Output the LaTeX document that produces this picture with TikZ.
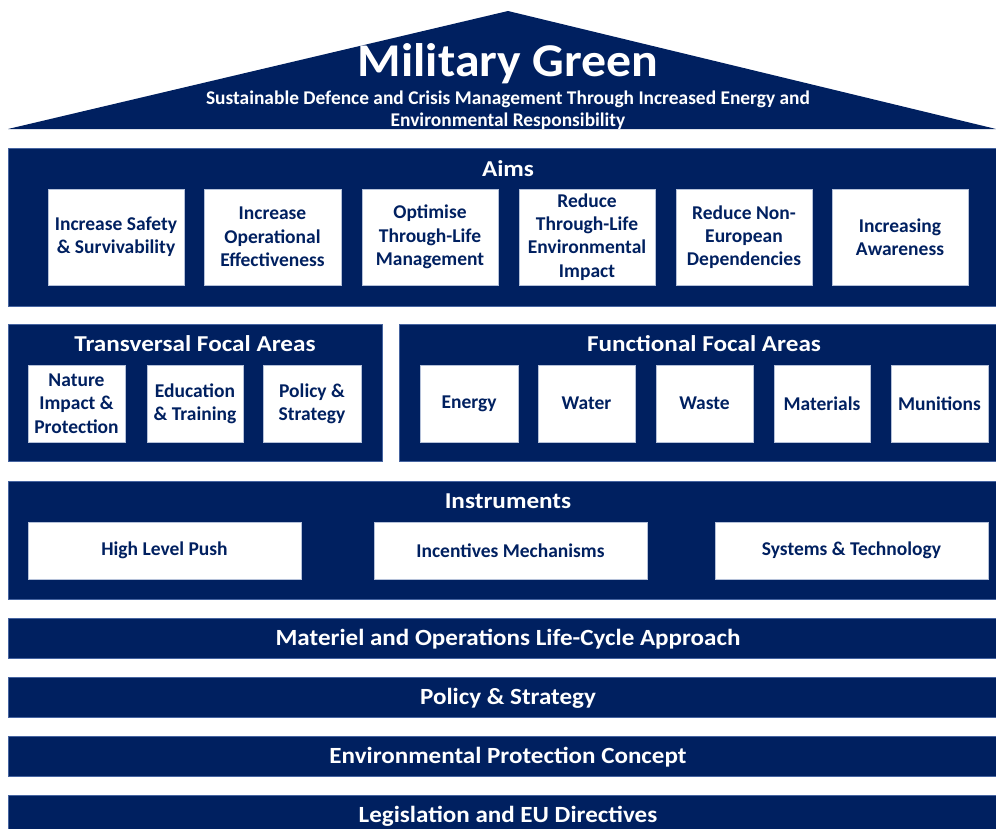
\documentclass[tikz,border=0pt]{standalone}
\usepackage{fontspec}
\setmainfont{Carlito}
\newfontfamily\headfont[FakeStretch=1.11]{Carlito}
\newfontfamily\barfont[FakeStretch=1.08]{Carlito}
\newfontfamily\titlefont[FakeStretch=1.06]{Carlito}
\definecolor{navy}{RGB}{0,32,96}
\definecolor{edge}{RGB}{70,100,160}
\tikzset{
  frame/.style={fill=navy, draw=edge, line width=0.4pt, inner sep=0pt},
  wbox/.style={fill=white, draw=edge!40!white, line width=0.3pt, inner sep=0pt, align=center,
     text=navy, font=\bfseries\fontsize{19.5}{23.3}\selectfont},
  head/.style={text=white, inner sep=0pt, anchor=base, font=\headfont\bfseries\fontsize{22.7}{26}\selectfont},
  bartext/.style={text=white, inner sep=0pt, anchor=base, font=\barfont\bfseries\fontsize{23.2}{27}\selectfont},
}
\begin{document}
\begin{tikzpicture}[x=1pt,y=-1pt]
\useasboundingbox (0,0) rectangle (996,828);
% roof
\fill[navy] (8,129) -- (508,11) -- (996,129) -- cycle;
\node[text=white, inner sep=0pt, anchor=base, font=\titlefont\bfseries\fontsize{47}{50}\selectfont] (title) at (508,76.5) {Military Green};
\node[text=white, inner sep=0pt, anchor=base, font=\bfseries\fontsize{19.4}{22}\selectfont] (sub1) at (508,104) {Sustainable Defence and Crisis Management Through Increased Energy and};
\node[text=white, inner sep=0pt, anchor=base, font=\bfseries\fontsize{19.4}{22}\selectfont] (sub2) at (508,126) {Environmental Responsibility};
% Aims
\node[frame, minimum width=988pt, minimum height=158pt] (aims) at (502,227) {};
\node[head] (aimsh) at (508,176.5) {Aims};
\node[wbox, minimum width=136pt, minimum height=96pt] (a1) at (116,237) {Increase Safety\\\& Survivability};
\node[wbox, minimum width=137pt, minimum height=96pt] (a2) at (272.5,237) {Increase\\Operational\\Effectiveness};
\node[wbox, minimum width=136pt, minimum height=96pt] (a3) at (430,237) {Optimise\\Through-Life\\Management};
\node[wbox, minimum width=136pt, minimum height=96pt] (a4) at (587,237) {Reduce\\Through-Life\\Environmental\\Impact};
\node[wbox, minimum width=136pt, minimum height=96pt] (a5) at (744,237) {Reduce Non-\\European\\Dependencies};
\node[wbox, minimum width=136pt, minimum height=96pt] (a6) at (900,237) {Increasing\\Awareness};
% Transversal
\node[frame, minimum width=374pt, minimum height=137pt] (trans) at (195,392.5) {};
\node[head] (transh) at (195,351) {Transversal Focal Areas};
\node[wbox, minimum width=97pt, minimum height=77pt] (t1) at (76.5,403.5) {Nature\\Impact \&\\Protection};
\node[wbox, minimum width=96pt, minimum height=77pt] (t2) at (195,403.5) {Education\\\& Training};
\node[wbox, minimum width=98pt, minimum height=77pt] (t3) at (312,403.5) {Policy \&\\Strategy};
% Functional
\node[frame, minimum width=597pt, minimum height=137pt] (func) at (697.5,392.5) {};
\node[head] (funch) at (704,351) {Functional Focal Areas};
\node[wbox, minimum width=98pt, minimum height=77pt] (f1) at (469,403.5) {Energy};
\node[wbox, minimum width=97pt, minimum height=77pt] (f2) at (586.5,403.5) {Water};
\node[wbox, minimum width=97pt, minimum height=77pt] (f3) at (704.5,403.5) {Waste};
\node[wbox, minimum width=96pt, minimum height=77pt] (f4) at (822,403.5) {Materials};
\node[wbox, minimum width=97pt, minimum height=77pt] (f5) at (939.5,403.5) {Munitions};
% Instruments
\node[frame, minimum width=988pt, minimum height=118pt] (inst) at (502,540) {};
\node[head] (insth) at (508,508.5) {Instruments};
\node[wbox, minimum width=273pt, minimum height=57pt] (i1) at (164.5,550.5) {High Level Push};
\node[wbox, minimum width=273pt, minimum height=57pt] (i2) at (510.5,550.5) {Incentives Mechanisms};
\node[wbox, minimum width=273pt, minimum height=57pt] (i3) at (851.5,550.5) {Systems \& Technology};
% bars
\node[frame, minimum width=988pt, minimum height=40pt] (b1) at (502,638) {};
\node[bartext] (b1t) at (508,645.5) {Materiel and Operations Life-Cycle Approach};
\node[frame, minimum width=988pt, minimum height=40pt] (b2) at (502,697) {};
\node[bartext] (b2t) at (508,704.5) {Policy \& Strategy};
\node[frame, minimum width=988pt, minimum height=40pt] (b3) at (502,756) {};
\node[bartext] (b3t) at (508,763.5) {Environmental Protection Concept};
\node[frame, minimum width=988pt, minimum height=40pt] (b4) at (502,815) {};
\node[bartext] (b4t) at (508,822.5) {Legislation and EU Directives};
\end{tikzpicture}
\end{document}
